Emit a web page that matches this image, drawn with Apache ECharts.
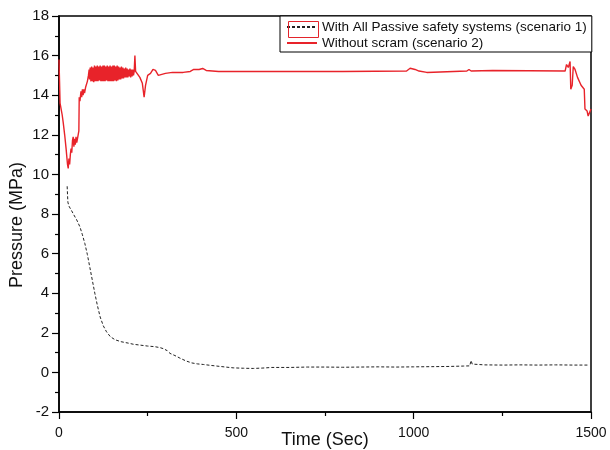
<!DOCTYPE html>
<html>
<head>
<meta charset="utf-8">
<script src="https://cdn.jsdelivr.net/npm/echarts@6/dist/echarts.min.js"></script>
<style>html,body{margin:0;padding:0;background:#fff;}#c{width:610px;height:450px;}</style>
</head>
<body>
<div id="c"></div>
<script>
var seriesNames = ['With All Passive safety systems (scenario 1)', 'Without scram (scenario 2)'];
var xTicks = [0, 500, 1000, 1500];
var yTicks = [-2, 0, 2, 4, 6, 8, 10, 12, 14, 16, 18];

var s1Time = [23, 24, 25, 28, 32, 36, 42, 50, 59, 66, 73, 80, 87, 94, 101, 108, 116, 125, 134, 145, 158, 175, 195, 210, 228, 250, 270, 285, 294, 305, 313, 327, 341, 358, 374, 390, 407, 425, 445, 470, 491, 520, 548, 575, 600, 650, 700, 750, 800, 850, 900, 950, 1000, 1050, 1100, 1140, 1158, 1162, 1165, 1170, 1200, 1250, 1300, 1350, 1400, 1450, 1492];
var s1Pressure = [9.4, 9.0, 8.6, 8.4, 8.3, 8.15, 7.95, 7.7, 7.35, 6.95, 6.5, 5.95, 5.3, 4.65, 4.0, 3.4, 2.8, 2.35, 2.05, 1.8, 1.65, 1.55, 1.48, 1.42, 1.38, 1.33, 1.3, 1.25, 1.2, 1.1, 0.96, 0.85, 0.72, 0.58, 0.48, 0.43, 0.4, 0.36, 0.32, 0.27, 0.23, 0.21, 0.2, 0.22, 0.25, 0.25, 0.27, 0.27, 0.26, 0.27, 0.28, 0.27, 0.28, 0.29, 0.3, 0.32, 0.33, 0.6, 0.42, 0.38, 0.38, 0.37, 0.38, 0.37, 0.38, 0.37, 0.37];

var s2Time = [0, 1, 3, 6, 9, 12, 16, 20, 22, 24, 26, 28, 30, 32, 34, 36, 38, 40, 42, 44, 46, 48, 50, 52, 54, 56, 57, 59, 62, 64, 66, 68, 70, 72, 75, 78, 80, 83, 85,
  86, 88, 90, 92, 94, 96, 98, 100, 102, 104, 106, 108, 110, 112, 114, 116, 118, 120, 122, 124, 126, 128, 130, 132, 134, 136, 138, 140, 142, 144, 146, 148, 150, 152, 154, 156, 158, 160, 162, 164, 166, 168, 170, 172, 174, 176, 178, 180, 182, 184, 186, 188, 190, 192, 194, 196, 198, 200, 202, 204, 206, 208, 210, 212,
  214, 216, 220, 228, 235, 240, 244, 250, 258, 265, 272, 280, 290, 300, 320, 350, 370, 380, 385, 395, 405, 415, 450, 600, 800, 980, 990, 1004, 1015, 1037, 1042, 1150, 1156, 1162, 1223, 1227, 1427, 1431, 1436, 1441, 1443, 1447, 1450, 1455, 1459, 1462, 1472, 1481, 1483, 1489, 1492, 1496, 1500];
var s2Pressure = [15.8, 15.9, 13.6, 13.3, 13.0, 12.6, 12.0, 11.3, 10.9, 10.5, 10.3, 10.8, 10.5, 11.0, 11.3, 11.1, 11.7, 11.9, 11.4, 11.8, 11.5, 11.9, 11.6, 11.8, 12.0, 12.2, 13.9, 13.7, 14.2, 13.9, 14.3, 14.0, 14.3, 14.1, 14.4, 14.3, 14.7, 15.0, 15.3,
  14.8, 15.4, 14.7, 15.45, 14.7, 15.4, 14.65, 15.5, 14.7, 15.45, 14.7, 15.5, 14.7, 15.45, 14.75, 15.5, 14.7, 15.45, 14.7, 15.5, 14.7, 15.5, 14.7, 15.45, 14.75, 15.5, 14.7, 15.45, 14.7, 15.5, 14.7, 15.45, 14.7, 15.5, 14.7, 15.5, 14.75, 15.45, 14.7, 15.5, 14.75, 15.45, 14.8, 15.4, 14.8, 15.45, 14.85, 15.4, 14.85, 15.35, 14.9, 15.4, 14.9, 15.35, 14.9, 15.3, 14.95, 15.35, 14.9, 15.3, 14.95, 15.3, 15.0, 15.2,
  16.0, 15.2, 15.1, 14.9, 14.6, 13.9, 14.5, 15.0, 15.1, 15.3, 15.25, 15.0, 15.05, 15.1, 15.15, 15.15, 15.2, 15.3, 15.2, 15.3, 15.35, 15.25, 15.2, 15.2, 15.2, 15.22, 15.36, 15.3, 15.22, 15.15, 15.22, 15.22, 15.3, 15.22, 15.25, 15.22, 15.22, 15.55, 15.4, 15.7, 14.3, 14.5, 15.45, 15.3, 15.2, 14.9, 14.5, 14.3, 13.3, 13.2, 12.95, 13.0, 13.3];

function pairs(t, v) { var out = []; for (var i = 0; i < t.length; i++) out.push([t[i], v[i]]); return out; }

var chart = echarts.init(document.getElementById('c'), null, {renderer: 'canvas'});
var FONT = 'Liberation Sans, Arial, sans-serif';
chart.setOption({
  animation: false,
  backgroundColor: '#fff',
  grid: {left: 59, right: 19, top: 16, bottom: 38, containLabel: false, outerBoundsMode: 'none',
    show: true, borderColor: '#000', borderWidth: 1.5, backgroundColor: 'transparent'},
  legend: {
    data: seriesNames,
    orient: 'vertical', left: 280, top: 16,
    padding: [4, 5, 2, 6], itemGap: 2, itemWidth: 30, itemHeight: 14,
    borderColor: '#000', borderWidth: 1, backgroundColor: '#fff',
    textStyle: {fontFamily: FONT, fontSize: 13.5, color: '#111', padding: [0, 0, 0, 0]},
    itemStyle: {opacity: 0}
  },
  xAxis: {
    type: 'value', min: xTicks[0], max: xTicks[xTicks.length - 1], interval: 500,
    name: 'Time (Sec)', nameLocation: 'middle', nameGap: 19, nameMoveOverlap: false,
    nameTextStyle: {fontFamily: FONT, fontSize: 18, color: '#111', verticalAlign: 'top'},
    axisLine: {show: true, onZero: false, lineStyle: {color: '#000', width: 1.5}},
    axisTick: {show: true, inside: false, length: 7, lineStyle: {color: '#000', width: 1.2}},
    minorTick: {show: true, splitNumber: 2, length: 4, lineStyle: {color: '#000', width: 1.2}},
    axisLabel: {fontFamily: FONT, fontSize: 14, color: '#111', margin: 14, formatter: function (v) { return String(v); }},
    splitLine: {show: false}
  },
  yAxis: {
    type: 'value', min: yTicks[0], max: yTicks[yTicks.length - 1], interval: 2,
    name: 'Pressure (MPa)', nameLocation: 'middle', nameGap: 33, nameMoveOverlap: false,
    nameTextStyle: {fontFamily: FONT, fontSize: 18, color: '#111', padding: [0, 22, 0, 0]},
    axisLine: {show: true, onZero: false, lineStyle: {color: '#000', width: 1.5}},
    axisTick: {show: true, inside: false, length: 7, lineStyle: {color: '#000', width: 1.2}},
    minorTick: {show: true, splitNumber: 2, length: 4, lineStyle: {color: '#000', width: 1.2}},
    axisLabel: {fontFamily: FONT, fontSize: 15, color: '#111', margin: 10, formatter: function (v) { return String(v); }},
    splitLine: {show: false}
  },
  graphic: [
    {type: 'rect', left: 286, top: 19, shape: {width: 30, height: 16}, style: {fill: 'none', stroke: '#e3242b', lineWidth: 1}, z: 100}
  ],
  series: [
    {
      name: seriesNames[0], type: 'line', showSymbol: false, symbol: 'none',
      data: pairs(s1Time, s1Pressure),
      lineStyle: {color: '#222', width: 1, type: [3, 2]},
      itemStyle: {color: '#222'}
    },
    {
      name: seriesNames[1], type: 'line', showSymbol: false, symbol: 'none',
      data: pairs(s2Time, s2Pressure),
      lineStyle: {color: '#e8232a', width: 1.4},
      itemStyle: {color: '#e8232a'}
    }
  ]
});
</script>
</body>
</html>
